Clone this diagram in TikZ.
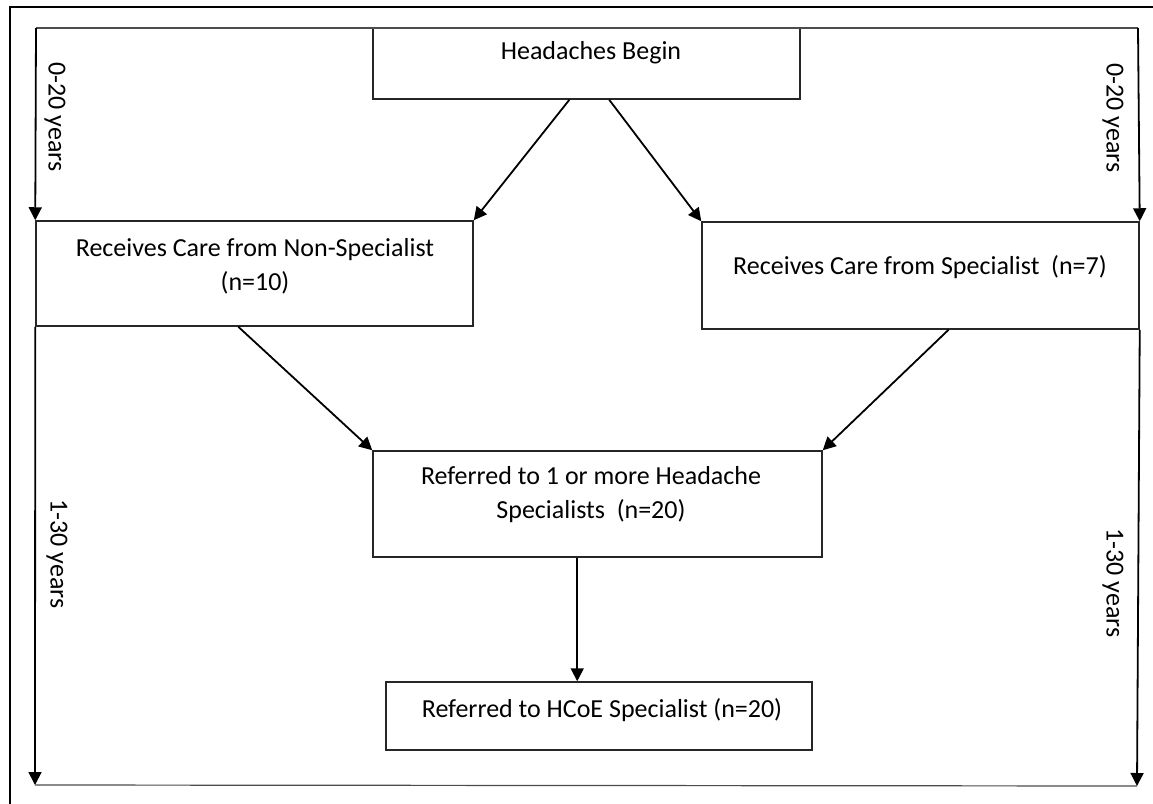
\documentclass[tikz,border=0pt]{standalone}
\usepackage{fontspec}
\setmainfont{Carlito}
\usetikzlibrary{positioning, calc, fit, arrows.meta}

\begin{document}
\begin{tikzpicture}[x=0.5pt, y=-0.5pt,
    box/.style={draw=black!85, line width=0.75pt, inner sep=0pt},
    lbl/.style={font=\fontsize{13}{17}\selectfont, align=center, inner sep=0pt},
    arr/.style={line width=0.9pt, -{Triangle[length=6.5pt, width=6.5pt]}},
    tline/.style={draw=black!70, line width=0.6pt}]
  \clip (0,0) rectangle (1153,804);
  \fill[white] (0,0) rectangle (1153,804);
  \draw[line width=1.3pt] (10,830) -- (10,7) -- (1170,7);

  % boxes
  \node[box, fit={(373,28) (800,99)}] (begin) {};
  \node[box, fit={(36,221) (473,326)}] (nonspec) {};
  \node[box, fit={(702,222) (1139,329)}] (spec) {};
  \node[box, fit={(373,451) (822,557)}] (refer) {};
  \node[box, fit={(386,682) (812,750)}] (hcoe) {};

  \node[lbl] (begintxt) at (591,53) {Headaches Begin};
  \node[lbl] (nonspectxt) at (255,266) {Receives Care from Non-Specialist\\(n=10)};
  \node[lbl] (spectxt) at (920,267) {Receives Care from Specialist~~(n=7)};
  \node[lbl] (refertxt) at (591,495) {Referred to 1 or more Headache\\Specialists~~(n=20)};
  \node[lbl] (hcoetxt) at (602,710) {Referred to HCoE Specialist (n=20)};

  % time lines
  \coordinate (tl) at (36,28);
  \coordinate (tr) at (1138,28);
  \coordinate (bl) at (35,785);
  \coordinate (br) at (1137,786);
  \draw[tline] (tl) -- (tr);
  \draw[tline] (bl) -- (br);
  \draw[arr] (tl) -- (nonspec.north west);
  \draw[arr] (tr) -- (spec.north east);
  \draw[arr] (nonspec.south west) -- (bl);
  \draw[arr] (spec.south east) -- (br);

  \node[lbl, rotate=-90] (ylt) at (55,117) {0-20 years};
  \node[lbl, rotate=-90] (yrt) at (1113,118) {0-20 years};
  \node[lbl, rotate=-90] (ylb) at (57,554) {1-30 years};
  \node[lbl, rotate=-90] (yrb) at (1113,583) {1-30 years};

  % flow
  \draw[arr] ($(begin.south west)!0.46!(begin.south east)$) -- (nonspec.north east);
  \draw[arr] ($(begin.south west)!0.553!(begin.south east)$) -- (spec.north west);
  \draw[arr] ($(nonspec.south west)!0.463!(nonspec.south east)$) -- (refer.north west);
  \draw[arr] ($(spec.south west)!0.564!(spec.south east)$) -- (refer.north east);
  \coordinate (rs) at ($(refer.south west)!0.455!(refer.south east)$);
  \draw[arr] (rs) -- (rs |- hcoe.north);
\end{tikzpicture}
\end{document}
